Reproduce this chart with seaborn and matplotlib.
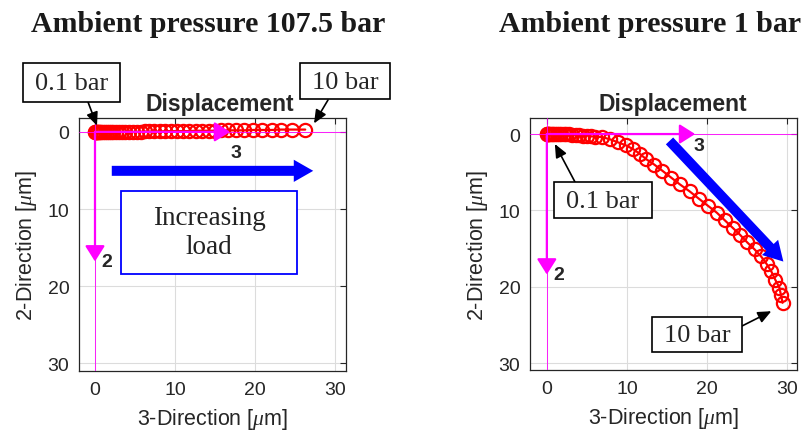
import matplotlib
matplotlib.use("Agg")
import matplotlib.pyplot as plt
import seaborn as sns
import pandas as pd
from matplotlib.patches import Rectangle, FancyArrowPatch

# ---------------- data ----------------
titles = ["Ambient pressure 107.5 bar", "Ambient pressure 1 bar"]
subtitle = "Displacement"
x_label = "3-Direction [$\\mu$m]"
y_label = "2-Direction [$\\mu$m]"
ticks = [0, 10, 20, 30]

hp_x = [0.0, 0.05, 0.1, 0.15, 0.2, 0.3, 0.4, 0.5, 0.65, 0.8, 1.0, 1.2, 1.45, 1.7,
        2.0, 2.3, 2.6, 3.0, 3.4, 3.8, 4.2, 4.7, 5.2, 5.7, 6.2, 6.8, 7.4, 8.1, 8.8,
        9.5, 10.2, 11.0, 11.8, 12.6, 13.4, 14.2, 15.0, 15.8, 16.7, 17.7, 18.7,
        19.8, 20.9, 22.1, 23.3, 24.7, 26.3]
hp_y = [0.0, 0.0, 0.0, 0.0, 0.0, 0.0, 0.0, 0.0, 0.0, 0.0, 0.0, 0.0, 0.0, 0.0,
        0.0, 0.0, 0.0, 0.0, 0.0, 0.0, 0.0, 0.0, 0.0, 0.0, -0.05, -0.05, -0.05,
        -0.05, -0.1, -0.1, -0.1, -0.1, -0.1, -0.15, -0.15, -0.15, -0.15, -0.2,
        -0.2, -0.2, -0.2, -0.25, -0.25, -0.25, -0.3, -0.3, -0.3]

lp_x = [0.0, 0.05, 0.1, 0.2, 0.3, 0.45, 0.6, 0.8, 1.0, 1.25, 1.5, 1.8, 2.1, 2.4,
        2.8, 3.2, 3.6, 4.0, 4.5, 5.0, 5.5, 6.0,
        6.9, 7.9, 8.9, 9.9, 10.8, 11.6, 12.4, 13.4, 14.4, 15.5, 16.6, 17.8, 19.0,
        20.1, 21.2, 22.2, 23.2, 24.1, 25.0, 25.9, 26.7, 27.4, 28.0, 28.5, 29.0,
        29.2, 29.4]
lp_y = [0.0, 0.0, 0.0, 0.0, 0.0, 0.0, 0.0, 0.0, 0.0, 0.0, 0.0, 0.0, 0.0, 0.05,
        0.05, 0.1, 0.1, 0.15, 0.2, 0.2, 0.3, 0.35,
        0.4, 0.7, 1.1, 1.5, 2.0, 2.6, 3.3, 4.0, 4.8, 5.7, 6.6, 7.5, 8.5,
        9.4, 10.3, 11.3, 12.3, 13.2, 14.2, 15.1, 16.0, 17.0, 18.0, 19.1, 20.1,
        21.1, 22.1]

# ---------------- style ----------------
sns.set_theme(style="whitegrid")
plt.rcParams["font.family"] = ["Liberation Sans", "DejaVu Sans"]
plt.rcParams["mathtext.fontset"] = "custom"
plt.rcParams["mathtext.it"] = "Liberation Serif:italic"
plt.rcParams["mathtext.rm"] = "Liberation Sans"

W, H = 802, 435
fig = plt.figure(figsize=(W / 100, H / 100), dpi=100, facecolor="white")


def fp(x, y):
    return (x / W, 1 - y / H)


MAG = (1, 0, 1)
SPINE = "#262626"

axes_px = [(79, 119, 346, 372), (530, 119, 797, 371)]
lims = [((-2.0, 31.4), (31.0, -1.8)), ((-2.1, 31.2), (30.9, -2.1))]
datasets = [(hp_x, hp_y), (lp_x, lp_y)]
axs = []
for i in range(2):
    x0, y0, x1, y1 = axes_px[i]
    ax = fig.add_axes([x0 / W, 1 - y1 / H, (x1 - x0) / W, (y1 - y0) / H])
    axs.append(ax)
    ax.set_facecolor("white")
    dx, dy = datasets[i]
    df = pd.DataFrame({"x": dx, "y": dy})
    sns.lineplot(data=df, x="x", y="y", sort=False, estimator=None, ax=ax,
                 color="red", lw=1.6, marker="o", markersize=9.5,
                 markerfacecolor="none", markeredgecolor="red",
                 markeredgewidth=1.6, zorder=3)
    ax.set_xlim(*lims[i][0])
    ax.set_ylim(*lims[i][1])
    ax.set_xticks(ticks)
    ax.set_yticks(ticks)
    ax.grid(True, color="#dcdcdc", lw=0.8)
    for s in ax.spines.values():
        s.set_visible(True)
        s.set_color(SPINE)
        s.set_linewidth(0.9)
    ax.tick_params(direction="in", top=True, right=True, length=4, width=0.8,
                   color=SPINE, labelcolor=SPINE, labelsize=14, pad=7)
    ax.tick_params(axis="x", labeltop=False)
    ax.tick_params(axis="y", labelright=False)
    ax.set_xlabel(x_label, fontsize=15.5, color=SPINE, labelpad=6)
    ax.set_ylabel(y_label, fontsize=15.5, color=SPINE, labelpad=6)
    # magenta reference lines
    ax.axhline(0, color=MAG, lw=0.6, ls="-", zorder=4)
    ax.axvline(0, color=MAG, lw=0.6, ls="-", zorder=4)

# magenta direction arrows
arrow_tips = [((16.9, 0.0), (0.0, 16.8)), ((18.5, 0.0), (0.0, 18.4))]
dir_labels = [((17.6, 2.7), (1.5, 16.8)), ((19.0, 1.5), (1.5, 18.4))]
for i, ax in enumerate(axs):
    for tip in arrow_tips[i]:
        ax.annotate("", xy=tip, xytext=(0, 0),
                    arrowprops=dict(arrowstyle="-|>,head_length=0.95,head_width=0.6",
                                    mutation_scale=10, color=MAG, lw=1.6,
                                    shrinkA=0, shrinkB=0), zorder=5)
    (p3, p2) = dir_labels[i]
    ax.text(*p3, "3", fontsize=14, fontweight="bold", ha="center", va="center", zorder=6)
    ax.text(*p2, "2", fontsize=14, fontweight="bold", ha="center", va="center", zorder=6)

# blue load arrows
blue_arrows = [((2.1, 5.05), (27.3, 5.05)), ((15.3, 0.9), (29.5, 16.7))]
for i, ax in enumerate(axs):
    a, b = blue_arrows[i]
    arr = FancyArrowPatch(a, b, arrowstyle="simple,head_length=14,head_width=16,tail_width=7.2",
                          mutation_scale=1, color="#0000ff", lw=0, shrinkA=0, shrinkB=0,
                          zorder=4)
    ax.add_patch(arr)

# titles
fig.text(*fp(208, 24), titles[0], fontsize=21.5, fontweight="bold",
         family="Liberation Serif", ha="center", va="center", color="#1a1a1a")
fig.text(*fp(650, 24), titles[1], fontsize=21.5, fontweight="bold",
         family="Liberation Serif", ha="center", va="center", color="#1a1a1a")
fig.text(*fp(220, 104), subtitle, fontsize=16.5, fontweight="bold", ha="center", va="center")
fig.text(*fp(673, 104), subtitle, fontsize=16.5, fontweight="bold", ha="center", va="center")

# increasing load box
fig.patches.append(Rectangle(fp(121, 275), 176 / W, 83 / H, transform=fig.transFigure,
                             fc="white", ec="#0000ff", lw=1.3, zorder=5))
fig.text(*fp(209, 233), "Increasing\nload", fontsize=19.5, family="Liberation Serif",
         ha="center", va="center", linespacing=1.25, color="#222222", zorder=6)

# annotation boxes: (box px, label, arrow start px, target data, axis index)
boxes = [((23, 64, 120, 103), "0.1 bar", (88, 103), (0.25, -0.8), 0),
         ((300, 64, 390, 100), "10 bar", (328, 101), (27.4, -1.1), 0),
         ((554, 183, 652, 219), "0.1 bar", (575, 183), (1.0, 1.3), 1),
         ((652, 318, 742, 353), "10 bar", (742, 327), (28.0, 23.2), 1)]
for (bx0, by0, bx1, by1), lab, start, target, ai in boxes:
    fig.patches.append(Rectangle(fp(bx0, by1), (bx1 - bx0) / W, (by1 - by0) / H,
                                 transform=fig.transFigure, fc="white", ec="black",
                                 lw=1.2, zorder=7))
    fig.text(*fp((bx0 + bx1) / 2, (by0 + by1) / 2 + 1), lab, fontsize=19,
             family="Liberation Serif", ha="center", va="center", zorder=8)
    axs[ai].annotate("", xy=target, xycoords="data", xytext=fp(*start),
                     textcoords="figure fraction", annotation_clip=False,
                     arrowprops=dict(arrowstyle="-|>,head_length=0.8,head_width=0.35",
                                     mutation_scale=10, color="black", lw=1.2,
                                     shrinkA=0, shrinkB=0), zorder=8)

fig.savefig("out.png", dpi=100, facecolor="white")
